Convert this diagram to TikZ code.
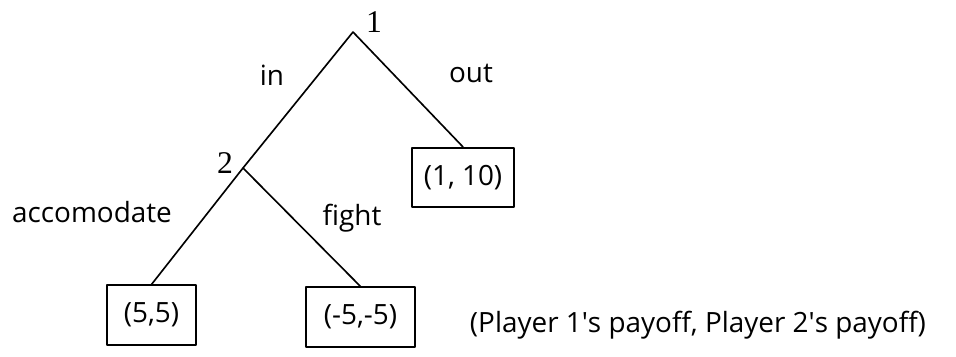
\documentclass[tikz,border=0pt]{standalone}
\usepackage{fontspec}
\setmainfont{Open Sans}
\newfontfamily\numfont{Liberation Serif}
\tikzset{
	payoff/.style={draw, line width=1.5pt, inner sep=0pt, minimum height=1.78cm},
	movelabel/.style={inner sep=0pt},
	playerlabel/.style={inner sep=0pt, font=\numfont\fontsize{27}{29}\selectfont}
}
\begin{document}
\begin{tikzpicture}[x=0.03cm, y=-0.03cm, font=\fontsize{23.8}{27}\selectfont, line join=round, line cap=round, line width=1.4pt]
			\useasboundingbox (0,0) rectangle (956,356);
			% decision nodes
			\coordinate (n1) at (353,32);
			\coordinate (n2) at (243,168);
			\node[playerlabel] (l1) at (374,22) {1};
			\node[playerlabel] (l2) at (225,163) {2};
			% terminal payoffs
			\node[payoff, minimum width=2.67cm] (p55) at (151.5,315) {(5,5)};
			\node[payoff, minimum width=3.27cm] (pm5) at (360.5,317) {(-5,-5)};
			\node[payoff, minimum width=3.06cm] (p110) at (463,177.5) {(1, 10)};
			% branches
			\draw (n1)--(n2) (n1)--(p110.north);
			\draw (n2)--(p55.north) (n2)--(pm5.north);
			\node[movelabel] (in) at (272,75) {in};
			\node[movelabel] (out) at (471,73) {out};
			\node[movelabel] (acc) at (92,212) {accomodate};
			\node[movelabel] (fight) at (352,218) {fight};
			\node[movelabel] (legend) at (698,325) {(Player 1\textquotesingle s payoff, Player 2\textquotesingle s payoff)};
\end{tikzpicture}
\end{document}
